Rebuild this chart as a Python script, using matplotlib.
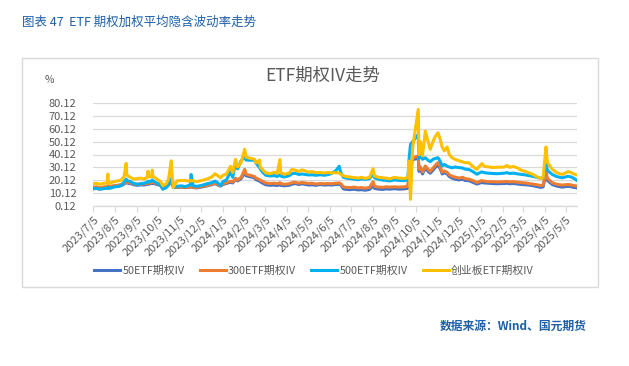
import matplotlib
matplotlib.use("Agg")
import matplotlib.pyplot as plt
import matplotlib.dates as mdates
from matplotlib.patches import Rectangle
from matplotlib.ticker import FixedLocator, FuncFormatter
import pandas as pd

plt.rcParams['font.family'] = ['Noto Sans CJK SC', 'DejaVu Sans']

dates = [
    "2023-07-05", "2023-07-10", "2023-07-14", "2023-07-19", "2023-07-25", "2023-07-26", "2023-07-27", "2023-07-31",
    "2023-08-04", "2023-08-09", "2023-08-14", "2023-08-18", "2023-08-21", "2023-08-22", "2023-08-28",
    "2023-09-01", "2023-09-06", "2023-09-11", "2023-09-15", "2023-09-20", "2023-09-21", "2023-09-22", "2023-09-26",
    "2023-09-27", "2023-09-28", "2023-10-09", "2023-10-12", "2023-10-17", "2023-10-20", "2023-10-24", "2023-10-25",
    "2023-10-27", "2023-11-01", "2023-11-07", "2023-11-13", "2023-11-20", "2023-11-21", "2023-11-24", "2023-11-29",
    "2023-12-05", "2023-12-11", "2023-12-15", "2023-12-20", "2023-12-25", "2023-12-29", "2024-01-02", "2024-01-05",
    "2024-01-10", "2024-01-16", "2024-01-19", "2024-01-23", "2024-01-26", "2024-01-31", "2024-02-05", "2024-02-07",
    "2024-02-19", "2024-02-21", "2024-02-26", "2024-02-27", "2024-03-01", "2024-03-06", "2024-03-12", "2024-03-18",
    "2024-03-22", "2024-03-26", "2024-03-27", "2024-04-01", "2024-04-08", "2024-04-12", "2024-04-16", "2024-04-22",
    "2024-04-26", "2024-05-06", "2024-05-10", "2024-05-16", "2024-05-22", "2024-05-28", "2024-06-03", "2024-06-07",
    "2024-06-13", "2024-06-18", "2024-06-20", "2024-06-24", "2024-06-28", "2024-07-03", "2024-07-09", "2024-07-15",
    "2024-07-19", "2024-07-25", "2024-07-31", "2024-08-05", "2024-08-07", "2024-08-13", "2024-08-19", "2024-08-23",
    "2024-08-29", "2024-09-04", "2024-09-10", "2024-09-18", "2024-09-23", "2024-09-24", "2024-09-25", "2024-09-26",
    "2024-09-27", "2024-09-30", "2024-10-08", "2024-10-09", "2024-10-11", "2024-10-14", "2024-10-18", "2024-10-22",
    "2024-10-25", "2024-10-29", "2024-11-01", "2024-11-05", "2024-11-08", "2024-11-11", "2024-11-14", "2024-11-18",
    "2024-11-21", "2024-11-25", "2024-11-29", "2024-12-05", "2024-12-10", "2024-12-13", "2024-12-19", "2024-12-24",
    "2024-12-30", "2025-01-06", "2025-01-10", "2025-01-15", "2025-01-21", "2025-01-27", "2025-02-07", "2025-02-11",
    "2025-02-14", "2025-02-20", "2025-02-26", "2025-03-04", "2025-03-10", "2025-03-13", "2025-03-19", "2025-03-25",
    "2025-03-31", "2025-04-03", "2025-04-07", "2025-04-09", "2025-04-16", "2025-04-22", "2025-04-30", "2025-05-08",
    "2025-05-12", "2025-05-16", "2025-05-21",
]

iv_50 = [
    13.6, 13.9, 13.3, 13.6, 14.2, 14.8, 14.0, 14.6,
    15.2, 15.4, 16.0, 17.2, 18.6, 18.0, 17.4,
    16.6, 16.2, 16.6, 16.4, 17.0, 17.6, 17.2, 17.8,
    18.4, 17.8, 16.0, 13.4, 14.6, 16.4, 18.8, 17.8,
    14.6, 14.6, 14.8, 14.4, 14.8, 15.0, 14.4, 14.2,
    14.8, 15.4, 16.0, 16.6, 17.6, 16.4, 15.6, 16.8,
    17.6, 18.6, 18.0, 21.0, 19.6, 21.4, 26.0, 23.6,
    22.0, 20.6, 19.4, 19.0, 18.0, 16.6, 16.2, 16.4,
    16.0, 16.8, 16.2, 15.8, 16.2, 17.0, 17.6, 16.8,
    17.4, 16.4, 16.6, 16.2, 16.8, 16.4, 16.6, 16.4,
    16.8, 17.0, 16.6, 13.4, 13.0, 12.8, 13.2, 12.6,
    12.8, 12.4, 13.0, 15.8, 13.8, 13.2, 13.0, 13.4,
    13.2, 13.6, 13.2, 13.4, 13.8, 18.0, 22.0, 26.0,
    30.0, 36.0, 37.4, 27.0, 29.0, 25.0, 29.6, 27.0,
    25.6, 28.0, 30.0, 32.0, 29.2, 25.0, 26.0, 25.0,
    23.0, 21.8, 21.0, 20.4, 21.0, 20.0, 19.8, 18.6,
    17.2, 18.4, 18.0, 17.8, 17.6, 17.4, 17.6, 17.8,
    17.4, 17.6, 17.2, 16.8, 16.6, 16.4, 16.0, 15.2,
    14.6, 15.0, 25.8, 20.0, 16.8, 15.6, 14.8, 15.4,
    15.2, 14.6, 14.2,
]

iv_300 = [
    14.6, 15.0, 14.3, 14.8, 15.2, 15.8, 15.0, 15.6,
    16.0, 16.2, 16.8, 17.8, 19.2, 18.6, 18.0,
    17.2, 17.0, 17.2, 17.2, 17.8, 18.2, 18.0, 18.4,
    19.0, 18.4, 16.8, 14.4, 15.4, 17.0, 19.2, 18.2,
    15.0, 14.8, 14.8, 14.6, 14.8, 15.0, 14.6, 14.4,
    15.2, 15.8, 16.4, 17.0, 17.8, 16.8, 16.0, 17.4,
    18.2, 19.4, 18.6, 21.6, 20.2, 22.4, 28.6, 24.8,
    23.0, 21.8, 20.6, 20.2, 19.4, 18.0, 17.6, 17.8,
    17.4, 18.2, 17.6, 17.0, 17.4, 18.2, 18.6, 17.8,
    18.4, 17.6, 17.8, 17.2, 17.6, 17.4, 17.6, 17.4,
    17.8, 18.0, 17.6, 15.0, 14.6, 14.4, 14.8, 14.2,
    14.4, 14.0, 14.6, 19.0, 15.4, 14.8, 14.6, 15.0,
    14.8, 15.0, 14.8, 15.0, 15.4, 19.0, 23.0, 27.0,
    31.0, 37.6, 39.0, 28.6, 30.6, 26.4, 31.2, 28.6,
    27.0, 29.6, 31.6, 33.8, 30.8, 26.4, 27.4, 26.2,
    24.4, 23.2, 22.6, 21.8, 22.4, 21.4, 21.0, 20.0,
    18.4, 19.8, 19.4, 19.0, 19.0, 18.8, 19.0, 19.2,
    18.8, 19.0, 18.6, 18.2, 18.0, 17.6, 17.2, 16.6,
    16.0, 16.4, 27.4, 21.6, 18.2, 17.0, 16.4, 16.8,
    16.6, 16.0, 15.6,
]

iv_500 = [
    13.4, 13.8, 13.2, 13.6, 14.0, 14.6, 13.8, 14.2,
    15.0, 15.2, 16.2, 18.6, 21.0, 20.0, 18.8,
    17.6, 17.0, 17.4, 17.8, 18.6, 19.4, 18.8, 19.6,
    20.4, 19.6, 16.2, 13.2, 14.6, 16.8, 21.4, 19.0,
    14.4, 15.4, 15.8, 15.2, 16.6, 24.6, 15.8, 15.4,
    16.0, 17.0, 17.6, 18.2, 19.4, 18.0, 16.0, 19.0,
    20.4, 26.6, 22.4, 33.8, 29.0, 35.2, 38.6, 35.8,
    35.6, 33.4, 30.0, 29.0, 26.6, 24.0, 23.4, 23.8,
    23.0, 24.4, 23.4, 22.6, 23.6, 25.2, 25.6, 24.6,
    25.0, 24.2, 24.4, 24.0, 24.4, 24.0, 24.6, 25.4,
    27.4, 31.0, 26.4, 22.4, 21.8, 21.4, 21.0, 20.6,
    21.2, 20.8, 21.4, 25.2, 22.0, 20.8, 20.2, 20.0,
    19.6, 20.4, 20.0, 19.8, 20.4, 28.0, 36.4, 42.0,
    48.0, 50.0, 55.8, 37.0, 40.0, 36.4, 37.6, 35.6,
    34.6, 36.4, 37.0, 37.6, 35.0, 31.2, 32.4, 31.0,
    30.4, 29.8, 30.4, 30.0, 29.6, 28.8, 28.4, 27.0,
    24.8, 26.6, 26.0, 25.6, 25.4, 25.2, 25.6, 26.0,
    25.4, 25.6, 25.0, 24.6, 24.2, 23.8, 23.2, 22.4,
    21.6, 22.0, 33.8, 27.8, 24.6, 23.0, 22.0, 23.2,
    22.8, 21.8, 20.0,
]

iv_cyb = [
    17.2, 17.8, 17.0, 17.6, 18.0, 25.0, 17.5, 18.4,
    19.0, 19.6, 20.2, 23.0, 33.2, 24.0, 22.0,
    21.0, 21.4, 21.8, 21.0, 22.4, 27.2, 22.8, 23.0,
    28.0, 23.2, 19.0, 15.8, 17.6, 21.0, 35.2, 24.0,
    14.6, 19.6, 20.0, 19.8, 19.4, 20.0, 19.6, 19.0,
    19.8, 20.6, 21.4, 22.6, 25.2, 23.6, 22.0, 24.0,
    24.8, 31.0, 26.0, 36.4, 30.4, 34.0, 44.2, 38.0,
    36.4, 33.6, 35.8, 30.4, 28.6, 25.8, 25.2, 26.4,
    25.4, 36.2, 26.0, 24.8, 25.6, 28.6, 28.0, 27.0,
    28.2, 26.4, 26.8, 26.0, 26.2, 25.8, 26.2, 25.8,
    26.0, 25.8, 24.8, 23.6, 23.0, 22.6, 22.2, 21.8,
    22.4, 21.6, 22.4, 29.0, 23.4, 22.4, 22.0, 21.8,
    21.2, 22.4, 21.8, 21.6, 22.0, 25.0, 35.0, 20.0,
    5.3, 45.0, 75.2, 40.0, 50.0, 39.0, 58.4, 50.0,
    44.2, 50.4, 54.0, 57.0, 52.0, 45.6, 43.0, 46.0,
    40.0, 37.6, 36.4, 35.2, 34.4, 33.8, 33.6, 31.0,
    28.6, 33.0, 30.8, 30.6, 30.0, 30.2, 30.4, 31.6,
    30.2, 30.8, 29.6, 27.6, 26.8, 26.0, 24.8, 22.8,
    21.4, 22.2, 46.0, 34.0, 28.6, 26.0, 24.6, 26.8,
    26.4, 25.0, 24.2,
]

series_names = ["50ETF期权IV", "300ETF期权IV", "500ETF期权IV", "创业板ETF期权IV"]
series_colors = ["#4472C4", "#ED7D31", "#00B0F0", "#FFC000"]
y_ticks = [0.12, 10.12, 20.12, 30.12, 40.12, 50.12, 60.12, 70.12, 80.12]

W, H = 629, 366
fig = plt.figure(figsize=(W / 100, H / 100), dpi=100)

x = pd.to_datetime(dates)
ax = fig.add_axes([93 / W, 1 - 206 / H, (577 - 93) / W, (206 - 103) / H])
for vals, name, col in zip([iv_50, iv_300, iv_500, iv_cyb], series_names, series_colors):
    ax.plot(x, vals, color=col, lw=2.2, label=name, solid_joinstyle='round')

ax.set_xlim(x[0], x[-1])
ax.set_ylim(y_ticks[0], y_ticks[-1])
ax.yaxis.set_major_locator(FixedLocator(y_ticks))
ax.yaxis.set_major_formatter(FuncFormatter(lambda v, p: f"{v:.2f}"))
ax.grid(axis='y', color='#D9D9D9', lw=0.9)
ax.set_axisbelow(True)

ax.xaxis.set_major_locator(mdates.MonthLocator(bymonthday=5))
ax.xaxis.set_major_formatter(FuncFormatter(
    lambda v, p: f"{mdates.num2date(v).year}/{mdates.num2date(v).month}/{mdates.num2date(v).day}"))
ax.tick_params(axis='x', length=4, width=0.8, color='#D9D9D9', labelsize=8,
               labelcolor='#595959', pad=2, labelrotation=45)
ax.tick_params(axis='y', length=0, labelsize=8, labelcolor='#595959', pad=12)
for lab in ax.get_xticklabels():
    lab.set_ha('right')
    lab.set_rotation_mode('anchor')

for side in ['top', 'right', 'left']:
    ax.spines[side].set_visible(False)
ax.spines['bottom'].set_color('#D9D9D9')
ax.spines['bottom'].set_linewidth(0.9)

# outer chart frame
fig.patches.append(Rectangle((22 / W, 1 - 287 / H), (598 - 22) / W, (287 - 58) / H,
                             transform=fig.transFigure, fill=False, edgecolor='#D9D9D9', lw=1))

fig.text(22 / W, 1 - 22 / H, "图表 47  ETF 期权加权平均隐含波动率走势", color='#1F5FA6',
         fontsize=9, va='center', ha='left')
fig.text(323 / W, 1 - 76 / H, "ETF期权IV走势", color='#595959', fontsize=12.5, va='center', ha='center')
fig.text(49 / W, 1 - 80 / H, "%", color='#595959', fontsize=7.5, va='center', ha='center')
fig.text(587 / W, 1 - 326 / H, "数据来源：Wind、国元期货", color='#1F5FA6',
         fontsize=8.5, va='center', ha='right', fontweight='bold')

fig.legend(loc='center', bbox_to_anchor=(314 / W, 1 - 271 / H), ncol=4, frameon=False,
           fontsize=7.8, labelcolor='#595959', handlelength=2.4, handletextpad=0.2,
           columnspacing=1.4, borderaxespad=0)

fig.savefig("out.png", dpi=100, facecolor='white')
